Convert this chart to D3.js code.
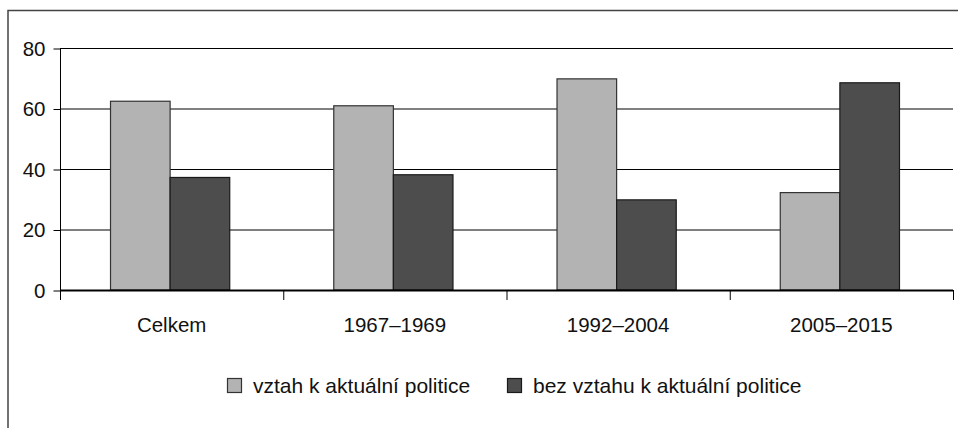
<!DOCTYPE html>
<html>
<head>
<meta charset="utf-8">
<script src="https://cdn.jsdelivr.net/npm/d3@7"></script>
<style>
    body { margin: 0; background: #fff; }
    svg { display: block; font-family: "Liberation Sans", Arial, sans-serif; }
</style>
</head>
<body>
<svg></svg>
<script>

var categories = ["Celkem", "1967–1969", "1992–2004", "2005–2015"]
var seriesNames = ["vztah k aktuální politice", "bez vztahu k aktuální politice"]
var withPolitics = [62.4, 60.9, 69.8, 32.2]
var withoutPolitics = [37.2, 38.1, 29.8, 68.5]
var yTicks = [0, 20, 40, 60, 80]

var colors = ["#b3b3b3", "#4d4d4d"]
var strokes = ["#333333", "#1a1a1a"]

var width = 958
var height = 428

var plotLeft = 60, plotRight = 953, plotTop = 48, plotBottom = 290

var svg = d3.select("svg")
    .attr("width", width)
    .attr("height", height)

/* Outer frame */
svg.append("rect")
    .attr("x", 8)
    .attr("y", 10.5)
    .attr("width", width + 20)
    .attr("height", height + 20)
    .attr("fill", "none")
    .attr("stroke", "#444")
    .attr("stroke-width", 1.5)

/* Scales */
var xScale = d3.scaleBand()
    .domain(categories)
    .range([plotLeft, plotRight])

var yScale = d3.scaleLinear()
    .domain([0, 80])
    .range([plotBottom, plotTop])

var bw = xScale.bandwidth()
var barW = bw * 0.267
var groupOffset = (bw - barW * 2) / 2 - 1.5

/* Gridlines */
svg.append("g")
    .selectAll("line")
    .data(yTicks)
    .enter()
        .append("line")
            .attr("x1", plotLeft)
            .attr("x2", plotRight)
            .attr("y1", (d) => yScale(d) + 0.5)
            .attr("y2", (d) => yScale(d) + 0.5)
            .attr("stroke", "#000")
            .attr("stroke-width", 1)

/* Bars */
var series = [withPolitics, withoutPolitics]
series.forEach(function (values, s) {
    svg.append("g")
        .selectAll("rect")
        .data(values)
        .enter()
            .append("rect")
                .attr("x", (d, i) => xScale(categories[i]) + groupOffset + s * barW)
                .attr("y", (d) => yScale(d))
                .attr("width", barW)
                .attr("height", (d) => yScale(0) - yScale(d))
                .attr("fill", colors[s])
                .attr("stroke", strokes[s])
                .attr("stroke-width", 1.2)
})

/* Y axis */
var yAxis = d3.axisLeft()
    .scale(yScale)
    .tickValues(yTicks)
    .tickSize(7)
    .tickPadding(8)

var yg = svg.append("g")
    .attr("transform", "translate(" + (plotLeft + 0.5) + ",0.5)")
    .call(yAxis)
yg.select(".domain").remove()
yg.selectAll("line").attr("stroke", "#000")
yg.selectAll("text")
    .attr("font-size", 20.5)
    .attr("font-family", null)
    .attr("fill", "#111")

svg.append("line")
    .attr("x1", plotLeft + 0.5)
    .attr("x2", plotLeft + 0.5)
    .attr("y1", yScale(80))
    .attr("y2", yScale(0) + 10)
    .attr("stroke", "#000")

/* X axis line and boundary ticks */
svg.append("line")
    .attr("x1", plotLeft)
    .attr("x2", plotRight)
    .attr("y1", yScale(0) + 0.5)
    .attr("y2", yScale(0) + 0.5)
    .attr("stroke", "#000")
    .attr("stroke-width", 2)

var bounds = categories.map((c) => xScale(c)).concat([xScale.range()[1]])
svg.append("g")
    .selectAll("line")
    .data(bounds)
    .enter()
        .append("line")
            .attr("x1", (d) => d + 0.5)
            .attr("x2", (d) => d + 0.5)
            .attr("y1", yScale(0))
            .attr("y2", yScale(0) + 10)
            .attr("stroke", "#000")

/* Category labels */
var xAxis = d3.axisBottom()
    .scale(xScale)
    .tickSize(0)
    .tickPadding(27)

var xg = svg.append("g")
    .attr("transform", "translate(0," + yScale(0) + ")")
    .call(xAxis)
xg.select(".domain").remove()
xg.selectAll("text")
    .attr("font-size", 20.5)
    .attr("font-family", null)
    .attr("fill", "#111")

/* Legend */
var legendX = [227, 507]
var legend = svg.append("g")
    .selectAll("g")
    .data(seriesNames)
    .enter()
        .append("g")
            .attr("transform", (d, i) => "translate(" + legendX[i] + ",378)")

legend.append("rect")
    .attr("x", 0.5)
    .attr("y", 0.5)
    .attr("width", 14)
    .attr("height", 14)
    .attr("fill", (d, i) => colors[i])
    .attr("stroke", (d, i) => strokes[i])
    .attr("stroke-width", 1.2)

legend.append("text")
    .attr("x", 26)
    .attr("y", 14.5)
    .attr("font-size", 21)
    .attr("fill", "#111")
    .text((d) => d)

</script>
</body>
</html>
